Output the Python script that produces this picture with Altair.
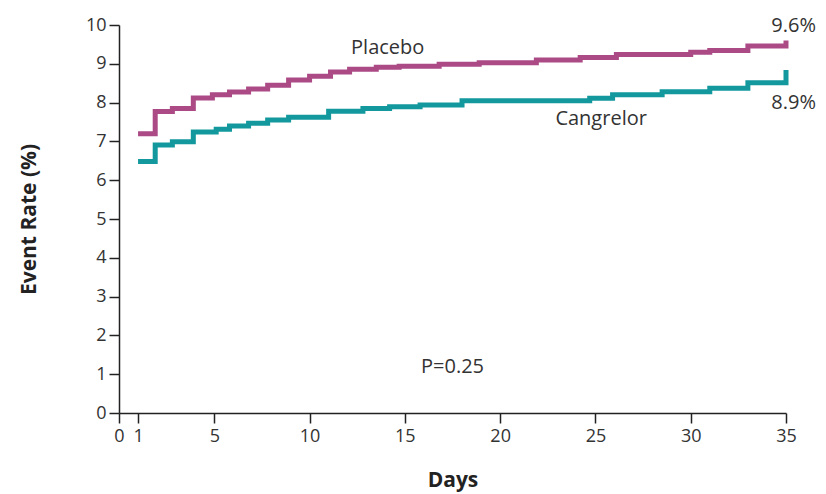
import altair as alt
import pandas as pd

# Placebo step curve (day, cumulative event rate %)
placebo_days = [1, 1.9, 2.8, 3.9, 4.9, 5.8, 6.8, 7.8, 8.9, 10.0, 11.1, 12.1, 13.5, 14.7,
                16.8, 18.9, 21.9, 24.2, 26.1, 30.0, 31.0, 33.0, 35.0, 35.0]
placebo_rate = [7.2, 7.77, 7.85, 8.12, 8.20, 8.27, 8.35, 8.45, 8.58, 8.68, 8.79, 8.86, 8.91, 8.94,
                8.99, 9.03, 9.10, 9.16, 9.24, 9.30, 9.34, 9.46, 9.46, 9.6]

# Cangrelor step curve
cang_days = [1, 1.9, 2.8, 3.9, 5.1, 5.8, 6.8, 7.8, 8.9, 11.0, 12.8, 14.2, 15.8, 18.0,
             24.7, 25.9, 28.5, 31.0, 33.0, 35.0, 35.0]
cang_rate = [6.48, 6.91, 6.99, 7.24, 7.31, 7.40, 7.47, 7.55, 7.62, 7.78, 7.85, 7.89, 7.94, 8.05,
             8.11, 8.20, 8.28, 8.37, 8.51, 8.51, 8.84]

x_ticks = [0, 1, 5, 10, 15, 20, 25, 30, 35]
y_ticks = [0, 1, 2, 3, 4, 5, 6, 7, 8, 9, 10]

label_text = ["Placebo", "Cangrelor", "9.6%", "8.9%", "P=0.25"]
label_x = [14.1, 25.3, 35.4, 35.4, 17.5]
label_y = [9.41, 7.58, 9.98, 7.99, 1.19]

rows = []
for d, r in zip(placebo_days, placebo_rate):
    rows.append({"day": d, "rate": r, "group": "Placebo", "order": len(rows)})
for d, r in zip(cang_days, cang_rate):
    rows.append({"day": d, "rate": r, "group": "Cangrelor", "order": len(rows)})
df = pd.DataFrame(rows)
labels = pd.DataFrame({"day": label_x, "rate": label_y, "text": label_text})

FONT = "Open Sans"

xscale = alt.Scale(domain=[0, 35], nice=False, zero=False)
yscale = alt.Scale(domain=[0, 10], nice=False)

common_axis = dict(grid=False, labelFontSize=18, titleFontSize=21, titleFontWeight="bold",
                   tickSize=10, domainColor="#222", tickColor="#222", labelColor="#333",
                   titleColor="#222", labelFont=FONT, titleFont=FONT, domainWidth=1.5,
                   tickWidth=1.5, labelFlush=False, labelOverlap=False)

x_axis = alt.Axis(values=x_ticks, title="Days", titlePadding=24, labelPadding=4, **common_axis)
y_axis = alt.Axis(values=y_ticks, tickCount=11, title="Event Rate (%)", titlePadding=46,
                  labelPadding=3, **common_axis)

lines = alt.Chart(df).mark_line(interpolate="step-after", strokeWidth=5, clip=False).encode(
    x=alt.X("day:Q", scale=xscale, axis=x_axis),
    y=alt.Y("rate:Q", scale=yscale, axis=y_axis),
    color=alt.Color("group:N", scale=alt.Scale(domain=["Placebo", "Cangrelor"],
                                               range=["#AC4A86", "#13999D"]), legend=None),
    detail="group:N",
    order="order:Q",
)

text = alt.Chart(labels).mark_text(fontSize=20, font=FONT, color="#333", clip=False).encode(
    x=alt.X("day:Q", scale=xscale, axis=x_axis),
    y=alt.Y("rate:Q", scale=yscale, axis=y_axis),
    text="text:N",
)

chart = alt.layer(lines, text).properties(
    width=667, height=388,
    autosize=alt.AutoSizeParams(type="none"),
    padding={"left": 119, "top": 25, "right": 40, "bottom": 81},
).configure(background="white").configure_view(stroke=None)

chart.save("out.html", embed_options={"renderer": "svg", "actions": False})
